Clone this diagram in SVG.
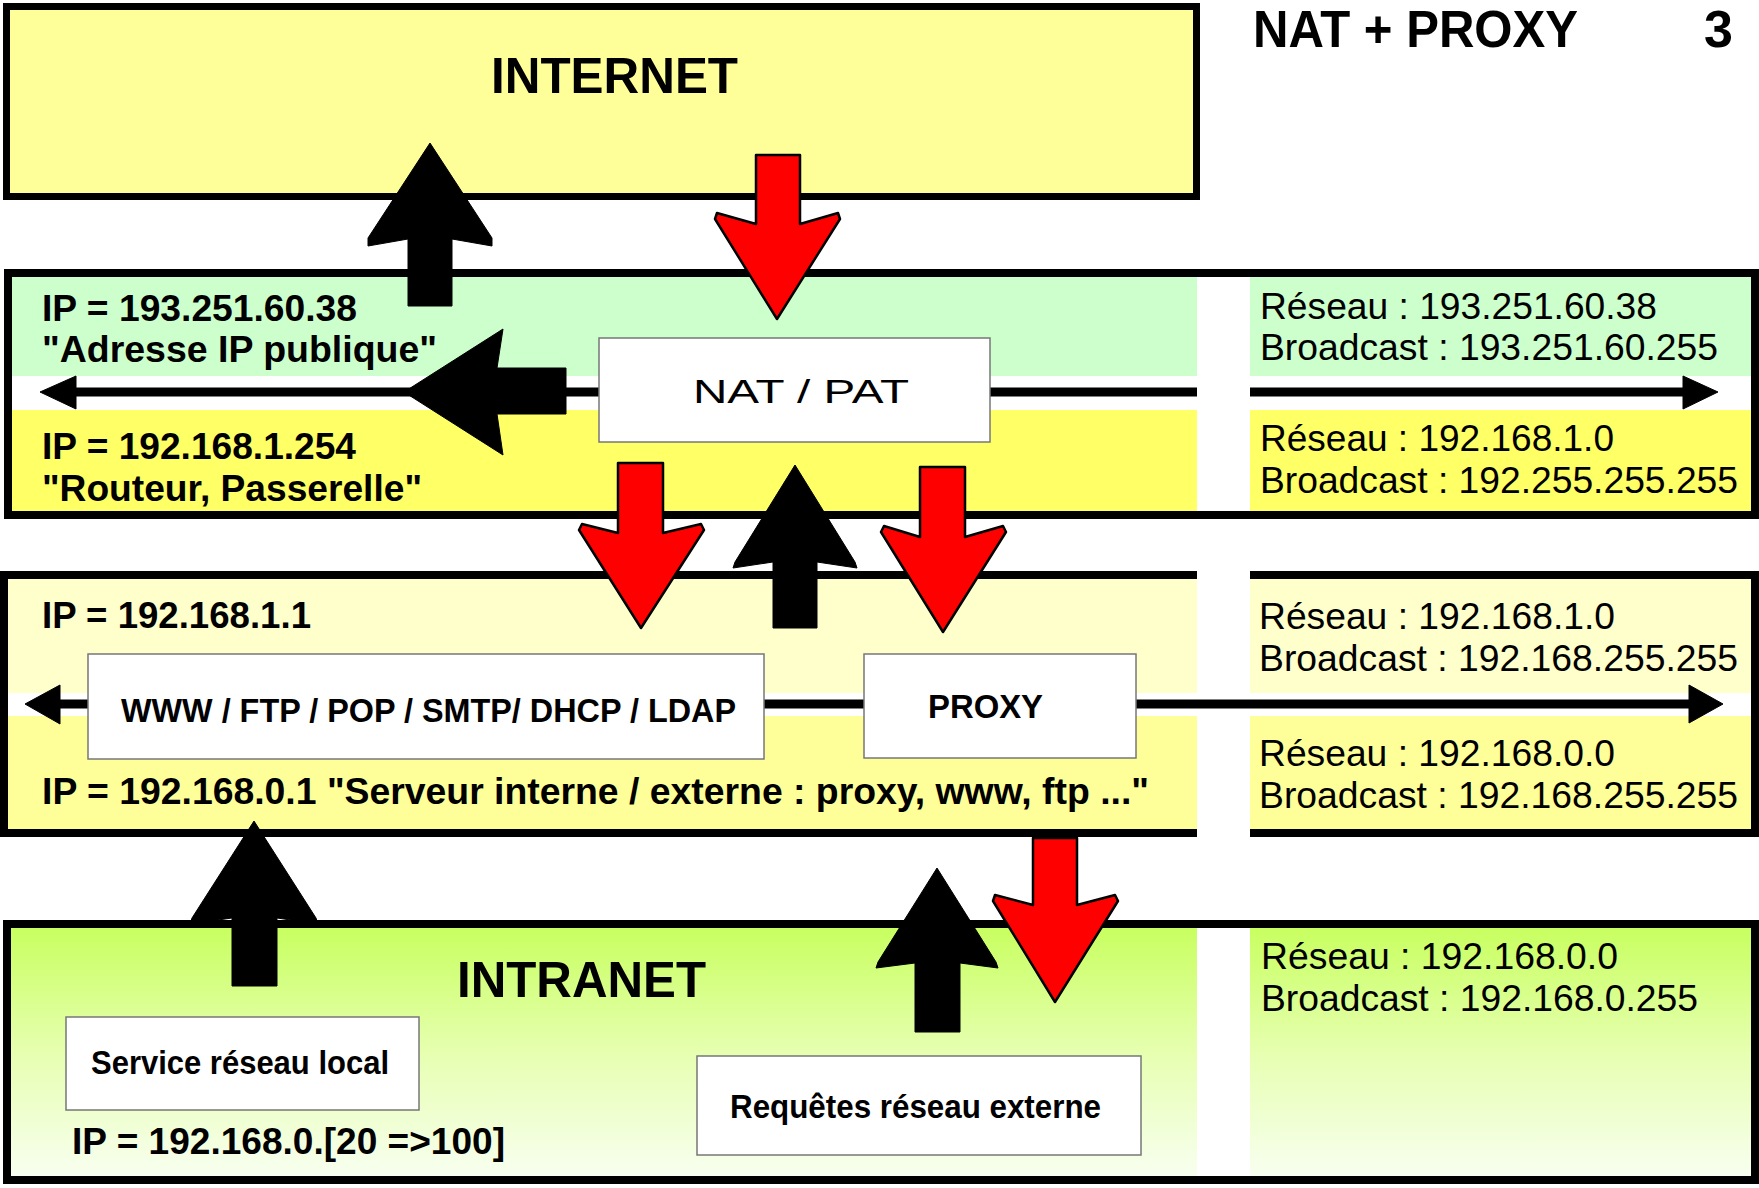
<svg xmlns="http://www.w3.org/2000/svg" width="1759" height="1188" viewBox="0 0 1759 1188">
<style>
  .band { fill: none; stroke: #000; stroke-width: 8; }
  .box { fill: #fff; stroke: #777; stroke-width: 1.5; }
  .hl { stroke: #000; stroke-width: 9; fill: none; }
  .blk { fill: #000; stroke: #000; stroke-width: 1; stroke-linejoin: round; }
  .red { fill: #ff0000; stroke: #000; stroke-width: 2.5; stroke-linejoin: round; }
  .b { font-family: "Liberation Sans", Arial, sans-serif; font-weight: bold; fill: #000; }
  .r { font-family: "Liberation Sans", Arial, sans-serif; font-weight: normal; fill: #000; }
</style>
<defs>
  <linearGradient id="intraGrad" x1="0" y1="0" x2="0" y2="1">
    <stop offset="0" stop-color="#c8ff60"/>
    <stop offset="0.5" stop-color="#e6ffb0"/>
    <stop offset="1" stop-color="#f8fff0"/>
  </linearGradient>
</defs>
<rect width="1759" height="1188" fill="#fff"/>

<g id="internet">
  <rect x="6.5" y="6.5" width="1190" height="190" fill="#ffff99" stroke="#000" stroke-width="7"/>
  <text class="b" x="491" y="93" font-size="50" textLength="247" lengthAdjust="spacingAndGlyphs">INTERNET</text>
</g>

<g id="title">
  <text class="b" x="1253" y="47" font-size="52" textLength="325" lengthAdjust="spacingAndGlyphs">NAT + PROXY</text>
  <text class="b" x="1704" y="47" font-size="52">3</text>
</g>

<g id="nat-layer">
  <rect x="12" y="277" width="1743" height="99" fill="#ccffcc"/>
  <rect x="12" y="410" width="1743" height="101" fill="#ffff66"/>
  <rect x="1197" y="277" width="53" height="234" fill="#fff"/>
  <rect x="8" y="273" width="1747" height="242" class="band"/>
  <text class="b" x="42" y="321" font-size="37" textLength="315" lengthAdjust="spacingAndGlyphs">IP = 193.251.60.38</text>
  <text class="b" x="42" y="362" font-size="37" textLength="395" lengthAdjust="spacingAndGlyphs">"Adresse IP publique"</text>
  <text class="b" x="42" y="459" font-size="37" textLength="314" lengthAdjust="spacingAndGlyphs">IP = 192.168.1.254</text>
  <text class="b" x="42" y="501" font-size="37" textLength="380" lengthAdjust="spacingAndGlyphs">"Routeur, Passerelle"</text>
  <text class="r" x="1260" y="319" font-size="37" textLength="397" lengthAdjust="spacingAndGlyphs">Réseau : 193.251.60.38</text>
  <text class="r" x="1260" y="360" font-size="37" textLength="458" lengthAdjust="spacingAndGlyphs">Broadcast : 193.251.60.255</text>
  <text class="r" x="1260" y="451" font-size="37" textLength="354" lengthAdjust="spacingAndGlyphs">Réseau : 192.168.1.0</text>
  <text class="r" x="1260" y="493" font-size="37" textLength="478" lengthAdjust="spacingAndGlyphs">Broadcast : 192.255.255.255</text>
</g>

<g id="server-layer">
  <rect x="8" y="579" width="1743" height="114" fill="#ffffcc"/>
  <rect x="8" y="716" width="1743" height="113" fill="#ffff99"/>
  <rect x="4" y="575" width="1751" height="258" class="band"/>
  <rect x="1197" y="568" width="53" height="272" fill="#fff"/>
  <text class="b" x="42" y="628" font-size="37" textLength="269" lengthAdjust="spacingAndGlyphs">IP = 192.168.1.1</text>
  <text class="b" x="42" y="804" font-size="37" textLength="1107" lengthAdjust="spacingAndGlyphs">IP = 192.168.0.1 "Serveur interne / externe : proxy, www, ftp ..."</text>
  <text class="r" x="1259" y="629" font-size="37" textLength="356" lengthAdjust="spacingAndGlyphs">Réseau : 192.168.1.0</text>
  <text class="r" x="1259" y="671" font-size="37" textLength="479" lengthAdjust="spacingAndGlyphs">Broadcast : 192.168.255.255</text>
  <text class="r" x="1259" y="766" font-size="37" textLength="356" lengthAdjust="spacingAndGlyphs">Réseau : 192.168.0.0</text>
  <text class="r" x="1259" y="808" font-size="37" textLength="479" lengthAdjust="spacingAndGlyphs">Broadcast : 192.168.255.255</text>
</g>

<g id="intranet">
  <rect x="11" y="928" width="1740" height="249" fill="url(#intraGrad)"/>
  <rect x="1197" y="928" width="53" height="249" fill="#fff"/>
  <rect x="7" y="924" width="1748" height="256" class="band"/>
  <text class="b" x="457" y="997" font-size="50" textLength="249" lengthAdjust="spacingAndGlyphs">INTRANET</text>
  <text class="b" x="72" y="1154" font-size="37" textLength="433" lengthAdjust="spacingAndGlyphs">IP = 192.168.0.[20 =&gt;100]</text>
  <text class="r" x="1261" y="969" font-size="37" textLength="357" lengthAdjust="spacingAndGlyphs">Réseau : 192.168.0.0</text>
  <text class="r" x="1261" y="1011" font-size="37" textLength="437" lengthAdjust="spacingAndGlyphs">Broadcast : 192.168.0.255</text>
</g>

<g id="connectors">
  <!-- band 2 horizontal line -->
  <line class="hl" x1="70" y1="392" x2="600" y2="392"/>
  <line class="hl" x1="989" y1="392" x2="1197" y2="392"/>
  <line class="hl" x1="1250" y1="392" x2="1690" y2="392"/>
  <polygon class="blk" points="40,392 76,376 76,409"/>
  <polygon class="blk" points="1718,392 1683,376 1683,409"/>
  <!-- band 3 horizontal line -->
  <line class="hl" x1="55" y1="704" x2="89" y2="704"/>
  <line class="hl" x1="763" y1="704" x2="865" y2="704"/>
  <line class="hl" x1="1135" y1="704" x2="1692" y2="704"/>
  <polygon class="blk" points="25,704 60,685 60,724"/>
  <polygon class="blk" points="1723,704 1689,685 1689,723"/>
</g>

<g id="nat-box">
  <rect class="box" x="599" y="338" width="391" height="104"/>
  <text class="r" x="693" y="403" font-size="33" textLength="216" lengthAdjust="spacingAndGlyphs">NAT / PAT</text>
</g>

<g id="www-box">
  <rect class="box" x="88" y="654" width="676" height="105"/>
  <text class="b" x="121" y="722" font-size="33" textLength="615" lengthAdjust="spacingAndGlyphs">WWW / FTP / POP / SMTP/ DHCP / LDAP</text>
</g>

<g id="proxy-box">
  <rect class="box" x="864" y="654" width="272" height="104"/>
  <text class="b" x="928" y="718" font-size="33" textLength="115" lengthAdjust="spacingAndGlyphs">PROXY</text>
</g>

<g id="service-box">
  <rect class="box" x="66" y="1017" width="353" height="93"/>
  <text class="b" x="91" y="1074" font-size="34" textLength="298" lengthAdjust="spacingAndGlyphs">Service réseau local</text>
</g>

<g id="requetes-box">
  <rect class="box" x="697" y="1056" width="444" height="99"/>
  <text class="b" x="730" y="1118" font-size="34" textLength="371" lengthAdjust="spacingAndGlyphs">Requêtes réseau externe</text>
</g>

<g id="flow-arrows">
  <!-- up to internet -->
  <polygon class="blk" points="430,143 492,238 492,246 452,239 452,306 408,306 408,239 368,246 368,238"/>
  <!-- red down from internet -->
  <polygon class="red" points="756,155 800,155 800,224 838,213 840,219 777,319 715,219 717,213 756,224"/>
  <!-- big left arrow -->
  <polygon class="blk" points="404,392 503,329 497,368 566,368 566,414 497,414 503,455"/>
  <!-- band2 -> band3 red 1 -->
  <polygon class="red" points="618,463 663,463 663,533 701,524 704,530 641,628 579,530 582,524 618,533"/>
  <!-- band3 -> band2 up -->
  <polygon class="blk" points="795,465 855,562 857,568 817,562 817,628 773,628 773,562 733,568 735,562"/>
  <!-- band2 -> proxy red 2 -->
  <polygon class="red" points="920,467 965,467 965,537 1003,526 1006,532 943,632 881,532 884,526 920,537"/>
  <!-- intranet -> band3 up left -->
  <polygon class="blk" points="254,821 316,918 318,924 277,918 277,986 232,986 232,918 190,924 192,918"/>
  <!-- intranet -> band3 up right -->
  <polygon class="blk" points="937,868 996,962 998,968 960,963 960,1032 915,1032 915,963 876,968 878,962"/>
  <!-- band3 -> intranet red -->
  <polygon class="red" points="1033,838 1077,838 1077,905 1115,895 1118,901 1055,1002 993,901 995,895 1033,905"/>
</g>
</svg>
